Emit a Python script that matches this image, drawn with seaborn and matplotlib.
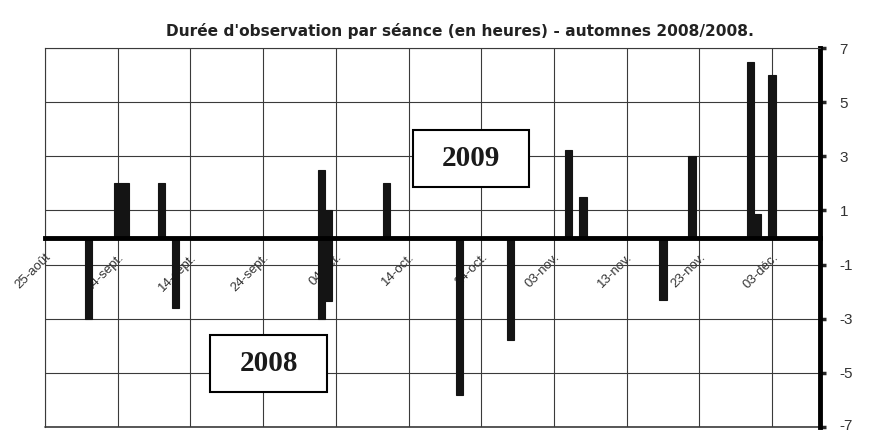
import matplotlib
matplotlib.use('Agg')
import matplotlib.pyplot as plt
import matplotlib.dates as mdates
import matplotlib.transforms as mtransforms
from matplotlib.patches import Rectangle
import seaborn as sns
import pandas as pd

# observation sessions, hours (2009 drawn upward, 2008 drawn downward)
dates_2009 = ['2008-09-04', '2008-09-05', '2008-09-10', '2008-10-02', '2008-10-03',
              '2008-10-11', '2008-11-05', '2008-11-07', '2008-11-22', '2008-11-30',
              '2008-12-01', '2008-12-03']
hours_2009 = [2, 2, 2, 2.5, 1, 2, 3.25, 1.5, 3, 6.5, 0.85, 6]

dates_2008 = ['2008-08-31', '2008-09-12', '2008-10-02', '2008-10-03', '2008-10-21',
              '2008-10-28', '2008-11-18']
hours_2008 = [-3, -2.6, -3, -2.35, -5.8, -3.8, -2.3]

tick_dates = ['2008-08-25', '2008-09-04', '2008-09-14', '2008-09-24', '2008-10-04',
              '2008-10-14', '2008-10-24', '2008-11-03', '2008-11-13', '2008-11-23',
              '2008-12-03']
tick_labels = ['25-août', '04-sept.', '14-sept.', '24-sept.', '04-oct.', '14-oct.',
               '24-oct.', '03-nov.', '13-nov.', '23-nov.', '03-déc.']
y_ticks = [7, 5, 3, 1, -1, -3, -5, -7]

title = "Durée d'observation par séance (en heures) - automnes 2008/2008."

sns.set_style('white')
plt.rcParams['font.family'] = ['Liberation Sans', 'DejaVu Sans']
plt.rcParams['axes.unicode_minus'] = False

W, H = 872, 433
fig = plt.figure(figsize=(W / 100, H / 100), dpi=100)
ax = fig.add_axes([45 / W, 6 / H, 775 / W, 379 / H])

x09 = mdates.date2num(pd.to_datetime(dates_2009))
x08 = mdates.date2num(pd.to_datetime(dates_2008))
bar_kw = dict(native_scale=True, orient='x', width=1.0, color='#141414', saturation=1,
              errorbar=None, edgecolor='#141414', linewidth=0.8, ax=ax)
sns.barplot(x=x09, y=hours_2009, **bar_kw)
sns.barplot(x=x08, y=hours_2008, **bar_kw)

# spine position first: moving a spine resets the ticks
ax.spines['bottom'].set_position(('data', 0))
ax.spines['bottom'].set_linewidth(3.5)
ax.spines['bottom'].set_color('black')
ax.spines['bottom'].set_zorder(3)
ax.spines['right'].set_linewidth(3.5)
ax.spines['right'].set_color('black')
for s in ['top', 'left']:
    ax.spines[s].set_linewidth(0.8)
    ax.spines[s].set_color('#3a3a3a')

x0 = mdates.date2num(pd.Timestamp('2008-08-25'))
ax.set_xlim(x0, x0 + 106.6)
ax.set_ylim(-7, 7)
ax.set_xlabel('')
ax.set_ylabel('')

ax.set_xticks(mdates.date2num(pd.to_datetime(tick_dates)))
ax.set_xticklabels(tick_labels, rotation=45, ha='right', va='top',
                   rotation_mode='anchor', fontsize=9.5, color='#333333')
ax.set_yticks(y_ticks)
ax.yaxis.tick_right()
ax.tick_params(axis='x', length=0, pad=10)
ax.tick_params(axis='y', length=4, width=2.5, direction='out', pad=10,
               labelsize=11, labelcolor='#333333')
# lowest label sits right at the figure edge, lift it a little
lab = ax.get_yticklabels()[-1]
lab.set_transform(lab.get_transform() + mtransforms.ScaledTranslation(0, 3 / 100, fig.dpi_scale_trans))

ax.grid(True, color='#3a3a3a', linewidth=0.8)
ax.set_axisbelow(True)
ax.axhline(-7, color='#3a3a3a', linewidth=1.2, clip_on=False)

fig.text(0.528, 1 - 31 / H, title, ha='center', va='center', fontsize=11.1,
         fontweight='bold', family='DejaVu Sans', color='#222222')

# year labels in boxes
for label, (bx, by, bw, bh) in [('2009', (413, 130, 116, 57)), ('2008', (210, 335, 117, 57))]:
    fig.add_artist(Rectangle((bx / W, 1 - (by + bh) / H), bw / W, bh / H,
                             transform=fig.transFigure, facecolor='white',
                             edgecolor='black', linewidth=1.5, zorder=4))
    fig.text((bx + bw / 2) / W, 1 - (by + bh / 2) / H, label, ha='center', va='center',
             fontsize=21, fontweight='bold', family=['Liberation Serif', 'DejaVu Serif'],
             color='#1a1a1a', zorder=5)

fig.savefig('out.png', dpi=100)
